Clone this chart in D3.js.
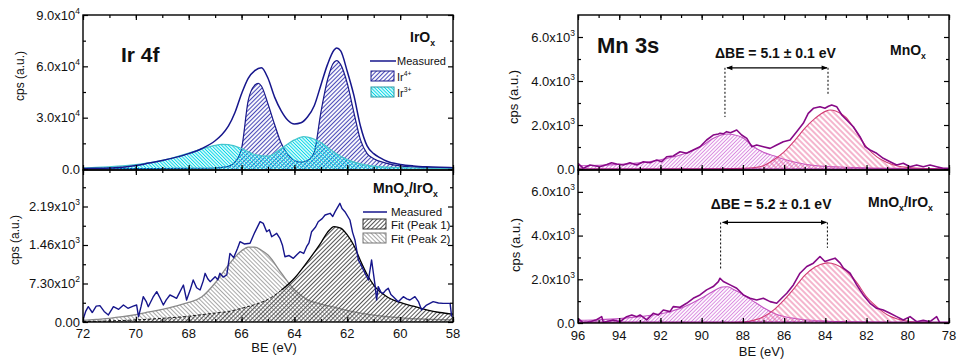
<!DOCTYPE html>
<html lang="en">
<head>
<meta charset="UTF-8">
<script src="https://d3js.org/d3.v7.min.js"></script>
<title>XPS Ir 4f / Mn 3s</title>
<style>
  body { margin: 0; background: #fff; }
  svg { display: block; }
</style>
</head>
<body>
<div id="chart"></div>
<script>
// ---------- data, pairs of [BE (eV), cps] ----------
const irMeasured = [[72,300],[71.5,400],[71,600],[70.5,1000],[70,2000],[69.5,3500],[69,5000],[68.5,6800],[68,9000],[67.5,12000],[67,16500],[66.75,20000],[66.5,25000],[66.25,33000],[66,44000],[65.75,53000],[65.5,57500],[65.25,59200],[65,53000],[64.75,42000],[64.5,34000],[64.25,28500],[64,26300],[63.75,27000],[63.5,30500],[63.25,37000],[63,49000],[62.75,61000],[62.5,69500],[62.4,70700],[62.25,69000],[62,57000],[61.75,43000],[61.5,25000],[61.25,13500],[61,9000],[60.75,6500],[60.5,4500],[60,2700],[59.5,1800],[59,1300],[58.5,1000],[58,800]];
const irFit4 = [[72,100],[71,150],[70,200],[69,300],[68,400],[67,600],[66.5,1500],[66.25,4000],[66,12000],[65.75,40000],[65.5,49000],[65.37,50100],[65.25,48500],[65,38000],[64.75,26000],[64.5,15000],[64.25,8500],[64,5000],[63.75,4000],[63.5,5000],[63.25,10000],[63,33000],[62.75,52000],[62.5,62500],[62.4,63300],[62.25,61000],[62,50000],[61.75,33000],[61.5,17000],[61.25,9000],[61,6000],[60.5,3300],[60,1800],[59.5,1200],[59,800],[58.5,600],[58,400]];
const irFit3 = [[72,600],[71.5,900],[71,1300],[70.5,1800],[70,2600],[69.5,3600],[69,5000],[68.5,7000],[68,9300],[67.5,11800],[67,13800],[66.75,14400],[66.5,14200],[66,12000],[65.5,8500],[65,7500],[64.5,12000],[64,17000],[63.65,18900],[63.5,18600],[63,15500],[62.5,9800],[62,5500],[61.5,3000],[61,1700],[60.5,1100],[60,800],[59.5,600],[59,500],[58.5,400],[58,300]];

const mixIrMeasured = [[72,40],[71.9,200],[71.8,290],[71.65,180],[71.5,300],[71.36,310],[71.2,200],[71.04,133],[70.9,250],[70.85,290],[70.65,240],[70.47,322],[70.3,260],[70.1,300],[69.97,322],[69.9,100],[69.8,300],[69.72,480],[69.6,380],[69.53,290],[69.35,470],[69.21,575],[69.08,450],[68.96,322],[68.85,420],[68.71,512],[68.58,480],[68.46,449],[68.2,701],[68.08,417],[67.95,600],[67.83,796],[67.7,650],[67.57,607],[67.45,780],[67.38,923],[67.28,820],[67.19,765],[67.0,860],[66.9,800],[66.82,923],[66.7,850],[66.56,891],[66.44,1302],[66.3,1220],[66.15,1400],[66.06,1523],[65.9,1480],[65.68,1492],[65.5,1700],[65.3,1902],[65.18,1870],[65.05,1712],[64.95,1750],[64.86,1617],[64.67,1681],[64.55,1587],[64.45,1450],[64.36,1238],[64.2,1260],[64.04,1207],[63.9,1280],[63.79,1333],[63.65,1300],[63.54,1428],[63.45,1500],[63.35,1712],[63.2,1800],[63.1,1902],[62.95,1960],[62.84,2029],[62.65,2061],[62.55,2000],[62.46,2092],[62.28,2251],[62.2,2150],[62.09,2092],[61.9,1934],[61.8,1700],[61.71,1555],[61.58,1176],[61.5,1100],[61.39,986],[61.2,796],[61.08,1176],[60.95,700],[60.89,417],[60.83,670],[60.72,560],[60.64,544],[60.55,600],[60.45,639],[60.35,520],[60.26,480],[60.07,385],[59.88,480],[59.75,440],[59.63,417],[59.44,480],[59.3,380],[59.19,228],[59.0,322],[58.75,385],[58.55,360],[58.37,354],[58.11,354],[58.05,100]];
const mixIrPeak1 = [[72,10],[71,20],[70,40],[69,70],[68,110],[67.5,140],[67,170],[66.5,200],[66,260],[65.5,330],[65,430],[64.5,600],[64,830],[63.5,1150],[63,1500],[62.75,1700],[62.5,1810],[62.25,1780],[62,1650],[61.75,1450],[61.5,1160],[61.25,900],[61,700],[60.5,480],[60,370],[59.5,300],[59,230],[58.5,180],[58,150]];
const mixIrPeak2 = [[72,30],[71.5,50],[71,70],[70.5,100],[70,140],[69.5,190],[69,240],[68.5,300],[68,370],[67.5,480],[67,740],[66.5,1080],[66,1350],[65.75,1420],[65.5,1420],[65.25,1360],[65,1270],[64.5,930],[64,610],[63.5,420],[63,340],[62.5,280],[62,220],[61.5,170],[61,130],[60.5,100],[60,80],[59,55],[58,40]];

const mnMeasured = [[96,259],[95.74,30],[95.42,182],[94.93,105],[94.6,200],[94.37,286],[94.12,230],[93.8,182],[93.48,286],[93.15,182],[92.83,332],[92.51,286],[92.18,409],[91.94,332],[91.7,559],[91.38,591],[91.05,786],[90.73,714],[90.41,864],[90.08,1014],[89.76,1318],[89.44,1545],[89.19,1591],[89.11,1621],[88.95,1600],[88.79,1697],[88.6,1650],[88.3,1773],[88.06,1545],[87.81,1394],[87.57,1014],[87.33,1091],[87.01,1014],[86.68,939],[86.36,1091],[86.04,1241],[85.71,1318],[85.39,1697],[85.07,2077],[84.83,2530],[84.58,2759],[84.26,2832],[84.02,2759],[83.85,2850],[83.69,2909],[83.45,2832],[83.2,2455],[82.96,2227],[82.64,1923],[82.32,1468],[82.07,1014],[81.83,864],[81.51,714],[81.19,486],[80.86,332],[80.54,182],[80.22,259],[79.89,105],[79.57,182],[79.25,105],[78.92,182],[78.6,105],[78.28,30],[78.03,30]];
const mnPeakA = [[96,0],[89,10],[88,30],[87.5,60],[87,150],[86.5,420],[86,780],[85.5,1280],[85,1850],[84.5,2300],[84,2620],[83.75,2680],[83.5,2640],[83,2350],[82.5,1700],[82,1000],[81.5,550],[81,300],[80.5,140],[80,70],[79,20],[78,5]];
const mnPeakB = [[96,150],[95,170],[94,210],[93,280],[92.5,340],[92,420],[91.5,520],[91,650],[90.5,820],[90,1040],[89.5,1360],[89,1560],[88.75,1590],[88.5,1570],[88,1420],[87.5,1020],[87,760],[86.5,600],[86,440],[85.5,320],[85,220],[84.5,160],[84,120],[83,80],[82,50],[80,25],[78,10]];

const mixMnMeasured = [[96,214],[95.74,0],[95.42,61],[95.1,150],[94.85,291],[94.77,30],[94.29,138],[93.96,61],[93.64,291],[93.39,367],[93.15,291],[92.99,367],[92.67,138],[92.35,443],[92.1,367],[91.86,596],[91.54,520],[91.38,749],[91.05,719],[90.73,902],[90.41,1131],[90.08,1284],[89.76,1514],[89.44,1667],[89.19,1896],[89.11,2049],[88.95,1896],[88.62,1743],[88.3,1590],[87.98,1284],[87.65,1131],[87.33,1055],[87.01,1131],[86.68,978],[86.36,902],[86.12,1131],[85.87,1361],[85.55,1743],[85.23,2278],[84.9,2584],[84.58,2737],[84.26,3042],[84.02,2813],[83.77,2890],[83.53,2966],[83.28,2737],[83.12,2508],[82.8,2278],[82.48,1743],[82.16,1284],[81.83,902],[81.51,673],[81.19,596],[80.86,443],[80.54,291],[80.22,138],[79.89,291],[79.57,61],[79.25,120],[78.92,61],[78.6,291],[78.44,0],[78.03,0]];
const mixMnPeakA = [[96,0],[89,10],[88,40],[87.5,120],[87,290],[86.5,600],[86,1060],[85.5,1600],[85,2180],[84.5,2560],[84,2740],[83.9,2750],[83.5,2680],[83,2400],[82.5,1880],[82,1200],[81.5,740],[81,380],[80.5,180],[80,80],[79,20],[78,5]];
const mixMnPeakB = [[96,120],[95,150],[94,200],[93,290],[92,420],[91.5,530],[91,680],[90.5,890],[90,1140],[89.5,1420],[89,1650],[88.75,1660],[88.5,1560],[88,1310],[87.5,1000],[87,700],[86.5,450],[86,300],[85.5,210],[85,150],[84,90],[83,60],[82,40],[80,20],[78,10]];

// splitting markers: [peak BE left, peak BE right], arrow level, dashed-line ends
const mnSplitBE = [88.87, 83.87];
const mnSplitEnds = [2360, 3360];
const mixSplitBE = [89.08, 83.9];
const mixSplitEnds = [2430, 3440];
const splitArrowLevel = 4600;

// ---------- ticks ----------
const irXTicks = [72, 70, 68, 66, 64, 62, 60, 58];
const mnXTicks = [96, 94, 92, 90, 88, 86, 84, 82, 80, 78];
const irTopYTicks = [0, 30000, 60000, 90000];
const irTopYLabels = ["0.0", "3.0x10^4", "6.0x10^4", "9.0x10^4"];
const irTopYMinor = [15000, 45000, 75000];
const irBotYTicks = [0, 730, 1460, 2190];
const irBotYLabels = ["0.00", "7.30x10^2", "1.46x10^3", "2.19x10^3"];
const irBotYMinor = [365, 1095, 1825, 2555];
const mnYTicks = [0, 2000, 4000, 6000];
const mnYLabels = ["0.0", "2.0x10^3", "4.0x10^3", "6.0x10^3"];
const mnYMinor = [1000, 3000, 5000];

const navy = "#16168c", purple = "#870a87";

const svg = d3.select("#chart").append("svg")
    .attr("width", 957).attr("height", 359)
    .style("font-family", "'Liberation Sans', Arial, sans-serif");
const defs = svg.append("defs");

function hatch(id, color, angle, gap, sw) {
    const p = defs.append("pattern").attr("id", id)
        .attr("patternUnits", "userSpaceOnUse")
        .attr("width", gap).attr("height", gap)
        .attr("patternTransform", `rotate(${angle})`);
    p.append("line").attr("x1", gap / 2).attr("x2", gap / 2).attr("y1", 0).attr("y2", gap)
        .attr("stroke", color).attr("stroke-width", sw);
}
hatch("h-ir4", "#4a4ab8", 45, 3, 1.1);
hatch("h-ir3", "#00d6e6", -45, 2.4, 1.1);
hatch("h-p1", "#555", 45, 3, 1);
hatch("h-p2", "#a8a8a8", -45, 3, 1);
hatch("h-pink", "#ea6c9c", -45, 4, 1);
hatch("h-violet", "#d98ae0", 45, 2.6, 1);

const marker = defs.append("marker").attr("id", "arrow")
    .attr("viewBox", "0 0 10 10").attr("refX", 9).attr("refY", 5)
    .attr("markerWidth", 9).attr("markerHeight", 6).attr("markerUnits", "userSpaceOnUse")
    .attr("orient", "auto-start-reverse");
marker.append("path").attr("d", "M0,1L10,5L0,9Z").attr("fill", "#000");

let clipN = 0;
function panel(o) {
    const x = d3.scaleLinear().domain(o.xDomain).range([o.x0, o.x1]);
    const y = d3.scaleLinear().domain(o.yDomain).range([o.y1, o.y0]);
    const g = svg.append("g");
    const id = "clip" + (clipN++);
    defs.append("clipPath").attr("id", id).append("rect")
        .attr("x", o.x0).attr("y", o.y0).attr("width", o.x1 - o.x0).attr("height", o.y1 - o.y0);
    const plot = g.append("g").attr("clip-path", `url(#${id})`);
    return { x, y, g, plot, o };
}

function axes(p, xTicks, yTicks, yLabels, yMinor, showX) {
    const { x, y, g, o } = p;
    const xMinor = d3.range(Math.min(...o.xDomain), Math.max(...o.xDomain) + 1, 1);
    const tickStyle = sel => sel.call(s => s.select(".domain").remove())
        .call(s => s.selectAll(".tick line").attr("stroke", "#000").attr("stroke-width", 1.2));
    const ax = g.append("g");
    ax.append("g").attr("transform", `translate(0,${o.y1})`)
        .call(d3.axisBottom(x).tickValues(xMinor).tickSize(-3).tickFormat("")).call(tickStyle);
    ax.append("g").attr("transform", `translate(0,${o.y0})`)
        .call(d3.axisTop(x).tickValues(xMinor).tickSize(-3).tickFormat("")).call(tickStyle);
    ax.append("g").attr("transform", `translate(0,${o.y1})`)
        .call(d3.axisBottom(x).tickValues(xTicks).tickSize(-5).tickFormat("")).call(tickStyle);
    ax.append("g").attr("transform", `translate(0,${o.y0})`)
        .call(d3.axisTop(x).tickValues(xTicks).tickSize(-5).tickFormat("")).call(tickStyle);
    ax.append("g").attr("transform", `translate(${o.x0},0)`)
        .call(d3.axisLeft(y).tickValues(yTicks).tickSize(-5).tickFormat("")).call(tickStyle);
    ax.append("g").attr("transform", `translate(${o.x0},0)`)
        .call(d3.axisLeft(y).tickValues(yMinor).tickSize(-3).tickFormat("")).call(tickStyle);
    ax.append("g").attr("transform", `translate(${o.x1},0)`)
        .call(d3.axisRight(y).tickValues(yTicks).tickSize(-5).tickFormat("")).call(tickStyle);
    ax.append("g").attr("transform", `translate(${o.x1},0)`)
        .call(d3.axisRight(y).tickValues(yMinor).tickSize(-3).tickFormat("")).call(tickStyle);

    g.append("rect").attr("x", o.x0).attr("y", o.y0)
        .attr("width", o.x1 - o.x0).attr("height", o.y1 - o.y0)
        .attr("fill", "none").attr("stroke", "#000").attr("stroke-width", 1.4);

    g.append("g").selectAll("text").data(yTicks).join("text")
        .attr("x", o.x0 - 3).attr("y", d => y(d) + 4.5)
        .attr("text-anchor", "end").attr("font-size", 13).attr("fill", "#111")
        .each(function (d, i) {
            const [m, e] = yLabels[i].split("^");
            const t = d3.select(this);
            t.append("tspan").text(m);
            if (e) t.append("tspan").attr("dy", -6).attr("font-size", 8.5).text(e);
        });

    if (showX) {
        g.append("g").selectAll("text").data(xTicks).join("text")
            .attr("x", d => x(d)).attr("y", o.y1 + o.xLabelGap)
            .attr("text-anchor", "middle").attr("font-size", 13).attr("fill", "#111")
            .text(d => d);
        g.append("text").attr("x", (o.x0 + o.x1) / 2 + o.xTitleShift).attr("y", o.xTitleY)
            .attr("text-anchor", "middle").attr("font-size", 13).attr("fill", "#111").text("BE (eV)");
    }
    g.append("text").attr("transform", `translate(${o.yTitleX},${o.yTitleY}) rotate(-90)`)
        .attr("text-anchor", "middle").attr("font-size", o.yTitleSize).attr("fill", "#111")
        .text("cps (a.u.)");
}

function fill(p, data, pat, stroke, sw) {
    const { x, y, plot } = p;
    plot.append("path").datum(data)
        .attr("d", d3.area().x(d => x(d[0])).y0(y(0)).y1(d => y(d[1])).curve(d3.curveMonotoneX))
        .attr("fill", `url(#${pat})`);
    if (stroke) line(p, data, stroke, sw, true);
}
function line(p, data, color, sw, smooth, dash) {
    const { x, y, plot } = p;
    plot.append("path").datum(data)
        .attr("d", d3.line().x(d => x(d[0])).y(d => y(d[1]))
            .curve(smooth ? d3.curveMonotoneX : d3.curveLinear))
        .attr("fill", "none").attr("stroke", color).attr("stroke-width", sw)
        .attr("stroke-linejoin", "round")
        .attr("stroke-dasharray", dash || null);
}

// text with sub/superscripts: parts = [[text, "sub"|"sup"|null], ...]
function rich(g, x, y, size, weight, parts) {
    const t = g.append("text").attr("x", x).attr("y", y).attr("font-size", size)
        .attr("font-weight", weight).attr("fill", "#111");
    let shift = 0;
    parts.forEach(([s, kind]) => {
        const target = kind === "sub" ? 4 : kind === "sup" ? -5 : 0;
        t.append("tspan").attr("dy", target - shift)
            .attr("font-size", kind ? size * 0.62 : size).text(s);
        shift = target;
    });
    return t;
}

// ---------- Ir 4f, IrOx ----------
const pA = panel({ x0: 83, x1: 453, y0: 15, y1: 170, xDomain: [72, 58], yDomain: [-580, 90000],
    yTitleX: 24, yTitleY: 76, yTitleSize: 12 });
fill(pA, irFit4, "h-ir4", "#1a1a8a", 1.2);
fill(pA, irFit3, "h-ir3", "#46c4cc", 1.2);
line(pA, irMeasured, navy, 1.5, true);
axes(pA, irXTicks, irTopYTicks, irTopYLabels, irTopYMinor, false);
pA.g.append("text").attr("x", 121).attr("y", 62).attr("font-size", 21).attr("font-weight", "bold")
    .attr("fill", "#111").text("Ir 4f");
rich(pA.g, 410, 42, 14, "bold", [["IrO"], ["x", "sub"]]);
// legend
pA.g.append("line").attr("x1", 370).attr("x2", 396).attr("y1", 61).attr("y2", 61)
    .attr("stroke", navy).attr("stroke-width", 1.5);
pA.g.append("text").attr("x", 397).attr("y", 65).attr("font-size", 11).attr("fill", "#111").text("Measured");
[["h-ir4", "#1a1a8a", 71, "4+"], ["h-ir3", "#2a9aa4", 87, "3+"]].forEach(([pat, st, yy, sup]) => {
    pA.g.append("rect").attr("x", 371).attr("y", yy).attr("width", 23).attr("height", 10)
        .attr("fill", `url(#${pat})`).attr("stroke", st).attr("stroke-width", 1);
    rich(pA.g, 397, yy + 10, 11, "normal", [["Ir"], [sup, "sup"]]);
});

// ---------- Ir 4f, MnOx/IrOx ----------
const pB = panel({ x0: 83, x1: 453, y0: 170, y1: 322, xDomain: [72, 58], yDomain: [0, 2882],
    xLabelGap: 16, xTitleY: 352, xTitleShift: 6, yTitleX: 19, yTitleY: 240, yTitleSize: 12 });
fill(pB, mixIrPeak2, "h-p2", "#8a8a8a", 1.3);
fill(pB, mixIrPeak1, "h-p1", null);
line(pB, mixIrPeak1.filter(d => d[0] >= 64.2), "#000", 0.9, true, "3,2");
line(pB, mixIrPeak1.filter(d => d[0] <= 64.5), "#000", 1.3, true);
line(pB, mixIrMeasured, navy, 1.4, false);
axes(pB, irXTicks, irBotYTicks, irBotYLabels, irBotYMinor, true);
rich(pB.g, 373, 193, 14, "bold", [["MnO"], ["x", "sub"], ["/IrO"], ["x", "sub"]]);
pB.g.append("line").attr("x1", 363).attr("x2", 387).attr("y1", 212).attr("y2", 212)
    .attr("stroke", navy).attr("stroke-width", 1.5);
pB.g.append("text").attr("x", 391).attr("y", 216).attr("font-size", 11.5).attr("fill", "#111").text("Measured");
[["h-p1", "#333", 219, "Fit (Peak 1)"], ["h-p2", "#777", 233, "Fit (Peak 2)"]].forEach(([pat, st, yy, lab]) => {
    pB.g.append("rect").attr("x", 363).attr("y", yy).attr("width", 23).attr("height", 10)
        .attr("fill", `url(#${pat})`).attr("stroke", st).attr("stroke-width", 1);
    pB.g.append("text").attr("x", 391).attr("y", yy + 9.5).attr("font-size", 11.5).attr("fill", "#111").text(lab);
});

// ---------- Mn 3s ----------
function splitting(p, be, ends, label, ty) {
    const { x, y, g } = p;
    be.forEach((e, i) => {
        g.append("line").attr("x1", x(e)).attr("x2", x(e))
            .attr("y1", y(splitArrowLevel)).attr("y2", y(ends[i]))
            .attr("stroke", "#000").attr("stroke-width", 1).attr("stroke-dasharray", "2,2");
    });
    g.append("line").attr("x1", x(be[0]) + 2).attr("x2", x(be[1]) - 1)
        .attr("y1", y(splitArrowLevel)).attr("y2", y(splitArrowLevel))
        .attr("stroke", "#000").attr("stroke-width", 1.2)
        .attr("marker-start", "url(#arrow)").attr("marker-end", "url(#arrow)");
    g.append("text").attr("x", x(be[0]) - 10).attr("y", ty).attr("font-size", 14)
        .attr("font-weight", "bold").attr("fill", "#111").text(label);
}

const pC = panel({ x0: 578, x1: 949, y0: 15, y1: 170, xDomain: [96, 78], yDomain: [-45, 7000],
    yTitleX: 518, yTitleY: 97, yTitleSize: 13 });
fill(pC, mnPeakB, "h-violet", "#c455c4", 1.1);
fill(pC, mnPeakA, "h-pink", "#d23c74", 1.1);
line(pC, mnMeasured, purple, 1.6, false);
pC.plot.append("line").attr("x1", 578).attr("x2", 949).attr("y1", pC.y(0)).attr("y2", pC.y(0))
    .attr("stroke", purple).attr("stroke-width", 1.2);
axes(pC, mnXTicks, mnYTicks, mnYLabels, mnYMinor, false);
pC.g.append("text").attr("x", 597).attr("y", 53).attr("font-size", 22).attr("font-weight", "bold")
    .attr("fill", "#111").text("Mn 3s");
rich(pC.g, 890, 55, 14, "bold", [["MnO"], ["x", "sub"]]);
splitting(pC, mnSplitBE, mnSplitEnds, "\u0394BE = 5.1 \u00b1 0.1 eV", 58);

const pD = panel({ x0: 578, x1: 949, y0: 170, y1: 323, xDomain: [96, 78], yDomain: [0, 7000],
    xLabelGap: 17, xTitleY: 356, xTitleShift: -2, yTitleX: 520, yTitleY: 245, yTitleSize: 13 });
fill(pD, mixMnPeakB, "h-violet", "#c455c4", 1.1);
fill(pD, mixMnPeakA, "h-pink", "#d23c74", 1.1);
line(pD, mixMnMeasured, purple, 1.6, false);
pD.plot.append("line").attr("x1", 578).attr("x2", 949).attr("y1", pD.y(0) - 1).attr("y2", pD.y(0) - 1)
    .attr("stroke", purple).attr("stroke-width", 1.2);
axes(pD, mnXTicks, mnYTicks, mnYLabels, mnYMinor, true);
rich(pD.g, 868, 207, 14, "bold", [["MnO"], ["x", "sub"], ["/IrO"], ["x", "sub"]]);
splitting(pD, mixSplitBE, mixSplitEnds, "\u0394BE = 5.2 \u00b1 0.1 eV", 209);
</script>
</body>
</html>
